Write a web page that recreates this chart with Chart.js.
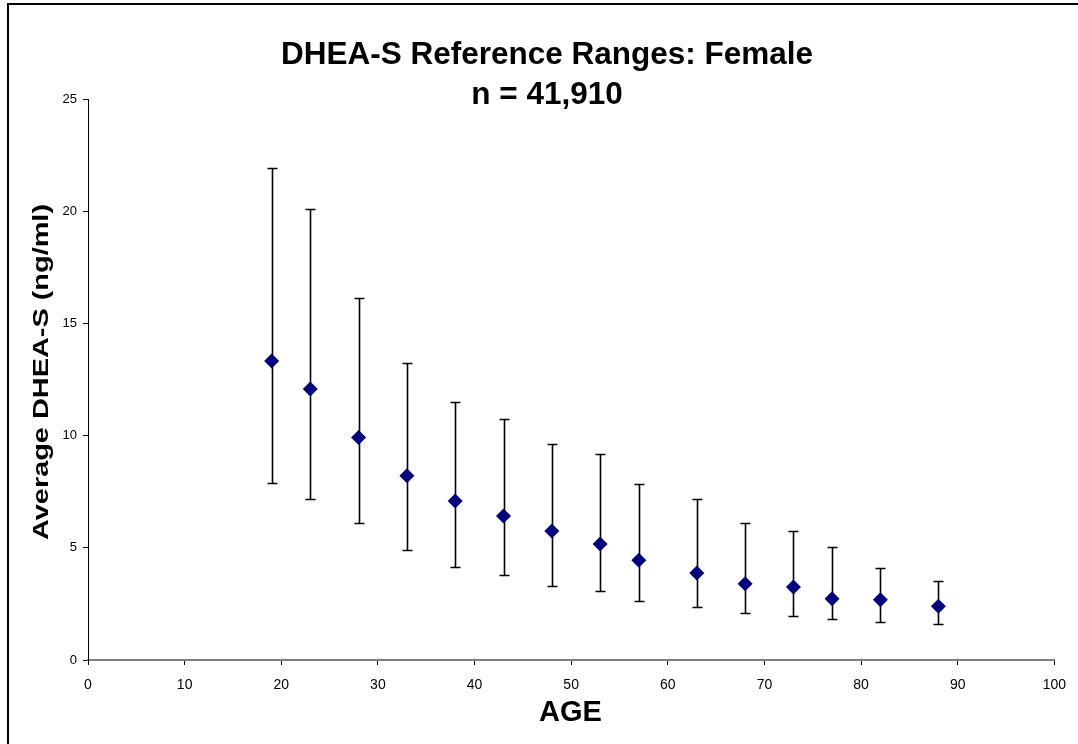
<!DOCTYPE html>
<html>
<head>
<meta charset="utf-8">
<script src="https://cdn.jsdelivr.net/npm/chart.js@4/dist/chart.umd.min.js"></script>
<style>
  html, body { margin: 0; padding: 0; background: #fff; overflow: hidden; }
  #wrap { position: relative; width: 1078px; height: 744px; overflow: hidden; }
  #frame { position: absolute; left: 7px; top: 3px; width: 1300px; height: 1000px; border: 2px solid #000; box-sizing: border-box; pointer-events: none; }
  canvas { position: absolute; left: 0; top: 0; }
</style>
</head>
<body>
<div id="wrap">
  <canvas id="c" width="1078" height="744"></canvas>
  <div id="frame"></div>
</div>
<script>
const titleLines = ["DHEA-S Reference Ranges: Female", "n = 41,910"];
const xTitle = "AGE";
const yTitle = "Average DHEA-S (ng/ml)";

const ages  = [19, 23, 28, 33, 38, 43, 48, 53, 57, 63, 68, 73, 77, 82, 88];
const means = [13.32, 12.08, 9.92, 8.21, 7.09, 6.42, 5.75, 5.17, 4.44, 3.88, 3.40, 3.25, 2.73, 2.69, 2.39];
const upper = [21.94, 20.08, 16.15, 13.24, 11.50, 10.74, 9.64, 9.18, 7.84, 7.16, 6.11, 5.76, 5.04, 4.10, 3.53];
const lower = [7.90, 7.16, 6.12, 4.90, 4.16, 3.80, 3.31, 3.07, 2.64, 2.36, 2.09, 1.95, 1.83, 1.69, 1.62];

const xTicks = { min: 0, max: 100, step: 10 };
const yTicks = { min: 0, max: 25, step: 5 };

const FONT = '"Liberation Sans", Arial, Helvetica, sans-serif';

const errorBars = {
  id: 'errorBars',
  beforeDatasetsDraw(chart) {
    const ctx = chart.ctx;
    const xs = chart.scales.x, ys = chart.scales.y;
    ctx.save();
    ctx.strokeStyle = '#000';
    ctx.lineWidth = 1.6;
    const cap = 5;
    for (let i = 0; i < ages.length; i++) {
      const px = Math.round(xs.getPixelForValue(ages[i])) + 0.5;
      const pu = Math.round(ys.getPixelForValue(upper[i])) + 0.5;
      const pl = Math.round(ys.getPixelForValue(lower[i])) + 0.5;
      ctx.beginPath();
      ctx.moveTo(px, pu); ctx.lineTo(px, pl);
      ctx.moveTo(px - cap, pu); ctx.lineTo(px + cap, pu);
      ctx.moveTo(px - cap, pl); ctx.lineTo(px + cap, pl);
      ctx.stroke();
    }
    ctx.restore();
  }
};

const titles = {
  id: 'titles',
  afterDraw(chart) {
    const ctx = chart.ctx;
    ctx.save();
    ctx.fillStyle = '#000';
    ctx.textAlign = 'center';
    ctx.textBaseline = 'alphabetic';
    ctx.font = 'bold 31.5px ' + FONT;
    ctx.fillText(titleLines[0], 547, 63.5);
    ctx.fillText(titleLines[1], 547, 103.5);
    ctx.font = 'bold 29px ' + FONT;
    ctx.fillText(xTitle, 570.5, 721);
    ctx.font = 'bold 22px ' + FONT;
    const w = ctx.measureText(yTitle).width;
    const sx = 336 / w;
    ctx.translate(48, 372);
    ctx.rotate(-Math.PI / 2);
    ctx.scale(sx, 1);
    ctx.fillText(yTitle, 0, 0);
    ctx.restore();
  }
};

new Chart(document.getElementById('c'), {
  type: 'scatter',
  data: {
    datasets: [{
      data: ages.map((a, i) => ({ x: a, y: means[i] })),
      pointStyle: 'rectRot',
      pointRadius: 7.5,
      pointBackgroundColor: '#000080',
      pointBorderColor: '#000080',
      pointBorderWidth: 0,
      showLine: false
    }]
  },
  options: {
    responsive: false,
    animation: false,
    events: [],
    layout: { padding: { left: 0, right: 23, top: 99, bottom: 0 } },
    plugins: { legend: { display: false }, tooltip: { enabled: false }, title: { display: false } },
    scales: {
      x: {
        type: 'linear',
        min: xTicks.min, max: xTicks.max,
        afterFit(s) { s.height = 84; },
        ticks: { stepSize: xTicks.step, color: '#000', padding: 12, maxRotation: 0, font: { family: FONT, size: 14 } },
        grid: { drawOnChartArea: false, drawTicks: true, tickLength: 5, tickColor: '#000', tickWidth: 1 },
        border: { display: true, color: '#808080', width: 2 }
      },
      y: {
        type: 'linear',
        min: yTicks.min, max: yTicks.max,
        afterFit(s) { s.width = 88; },
        ticks: { stepSize: yTicks.step, color: '#000', padding: 6, font: { family: FONT, size: 13 } },
        grid: { drawOnChartArea: false, drawTicks: true, tickLength: 5, tickColor: '#000', tickWidth: 1 },
        border: { display: true, color: '#000', width: 1 }
      }
    }
  },
  plugins: [errorBars, titles]
});
</script>
</body>
</html>
